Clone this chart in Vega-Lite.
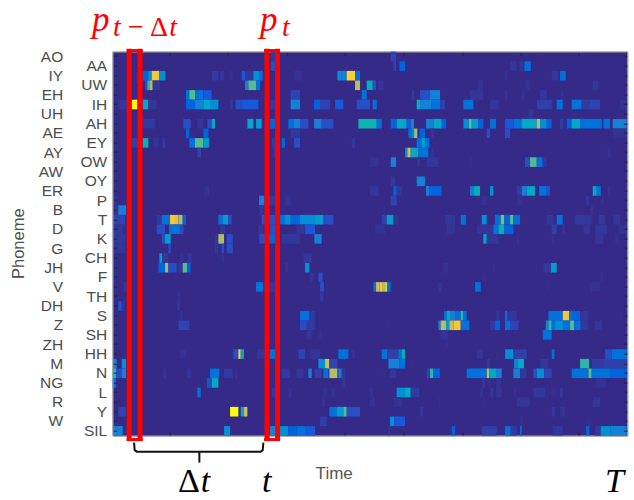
{"$schema":"https://vega.github.io/schema/vega-lite/v6.json","width":514.7,"height":384,"autosize":{"type":"none"},"padding":{"left":112.7,"top":51.7,"right":6.6,"bottom":64.3},"background":"white","view":{"fill":"#352a87","stroke":null},
"resolve":{"scale":{"y":"independent"},"axis":{"x":"independent","y":"independent"}},
"datasets":{"carrier":[{"p":"AO","t":0,"e":1}],
"cells":[
{"p":"AO","t":475,"e":487,"v":0.06},{"p":"AO","t":834,"e":850,"v":0.08},
{"p":"AA","t":475,"e":487,"v":0.1},{"p":"AA","t":842,"e":850,"v":0.08},{"p":"AA","t":860,"e":877,"v":0.15},{"p":"AA","t":1192,"e":1212,"v":0.04},{"p":"AA","t":1220,"e":1232,"v":0.04},{"p":"AA","t":1235,"e":1254,"v":0.2},
{"p":"IY","t":90,"e":107,"v":0.15},{"p":"IY","t":107,"e":117,"v":0.3},{"p":"IY","t":117,"e":140,"v":0.85},{"p":"IY","t":140,"e":158,"v":0.3},{"p":"IY","t":297,"e":317,"v":0.06},{"p":"IY","t":322,"e":334,"v":0.05},{"p":"IY","t":352,"e":360,"v":0.03},{"p":"IY","t":387,"e":397,"v":0.12},{"p":"IY","t":397,"e":422,"v":0.05},{"p":"IY","t":422,"e":440,"v":0.3},{"p":"IY","t":440,"e":450,"v":0.2},{"p":"IY","t":544,"e":567,"v":0.03},{"p":"IY","t":674,"e":687,"v":0.3},{"p":"IY","t":687,"e":702,"v":0.25},{"p":"IY","t":702,"e":727,"v":0.9},{"p":"IY","t":727,"e":742,"v":0.2},{"p":"IY","t":1177,"e":1184,"v":0.03},{"p":"IY","t":1317,"e":1337,"v":0.05},{"p":"IY","t":1342,"e":1359,"v":0.2},
{"p":"UW","t":97,"e":104,"v":0.1},{"p":"UW","t":104,"e":112,"v":0.5},{"p":"UW","t":112,"e":120,"v":0.7},{"p":"UW","t":120,"e":142,"v":0.05},{"p":"UW","t":397,"e":407,"v":0.25},{"p":"UW","t":407,"e":430,"v":0.55},{"p":"UW","t":430,"e":442,"v":0.2},{"p":"UW","t":727,"e":742,"v":0.7},{"p":"UW","t":762,"e":780,"v":0.45},{"p":"UW","t":780,"e":790,"v":0.1},{"p":"UW","t":797,"e":812,"v":0.04},{"p":"UW","t":1097,"e":1112,"v":0.03},{"p":"UW","t":1237,"e":1252,"v":0.03},{"p":"UW","t":1440,"e":1457,"v":0.05},
{"p":"EH","t":220,"e":230,"v":0.2},{"p":"EH","t":230,"e":247,"v":0.55},{"p":"EH","t":247,"e":272,"v":0.2},{"p":"EH","t":272,"e":297,"v":0.12},{"p":"EH","t":534,"e":562,"v":0.08},{"p":"EH","t":747,"e":762,"v":0.2},{"p":"EH","t":897,"e":904,"v":0.06},{"p":"EH","t":922,"e":952,"v":0.1},{"p":"EH","t":952,"e":982,"v":0.25},{"p":"EH","t":1072,"e":1112,"v":0.04},{"p":"EH","t":1177,"e":1184,"v":0.03},{"p":"EH","t":1227,"e":1237,"v":0.03},{"p":"EH","t":1282,"e":1302,"v":0.05},{"p":"EH","t":1347,"e":1352,"v":0.03},
{"p":"IH","t":17,"e":57,"v":0.05},{"p":"IH","t":57,"e":74,"v":1},{"p":"IH","t":90,"e":107,"v":0.4},{"p":"IH","t":107,"e":132,"v":0.04},{"p":"IH","t":220,"e":247,"v":0.15},{"p":"IH","t":247,"e":272,"v":0.25},{"p":"IH","t":272,"e":292,"v":0.4},{"p":"IH","t":292,"e":317,"v":0.3},{"p":"IH","t":352,"e":360,"v":0.05},{"p":"IH","t":369,"e":387,"v":0.1},{"p":"IH","t":387,"e":437,"v":0.12},{"p":"IH","t":472,"e":487,"v":0.05},{"p":"IH","t":534,"e":562,"v":0.25},{"p":"IH","t":604,"e":622,"v":0.15},{"p":"IH","t":622,"e":652,"v":0.08},{"p":"IH","t":667,"e":692,"v":0.12},{"p":"IH","t":732,"e":772,"v":0.1},{"p":"IH","t":780,"e":792,"v":0.2},{"p":"IH","t":912,"e":922,"v":0.45},{"p":"IH","t":922,"e":957,"v":0.25},{"p":"IH","t":957,"e":982,"v":0.2},{"p":"IH","t":982,"e":997,"v":0.07},{"p":"IH","t":1052,"e":1082,"v":0.2},{"p":"IH","t":1132,"e":1157,"v":0.05},{"p":"IH","t":1272,"e":1317,"v":0.07},{"p":"IH","t":1332,"e":1350,"v":0.2},{"p":"IH","t":1377,"e":1407,"v":0.2},{"p":"IH","t":1407,"e":1432,"v":0.06},{"p":"IH","t":1432,"e":1462,"v":0.08},{"p":"IH","t":1522,"e":1542,"v":0.03},
{"p":"UH","t":1247,"e":1262,"v":0.04},
{"p":"AH","t":90,"e":127,"v":0.06},{"p":"AH","t":212,"e":234,"v":0.1},{"p":"AH","t":254,"e":272,"v":0.05},{"p":"AH","t":284,"e":297,"v":0.1},{"p":"AH","t":297,"e":307,"v":0.4},{"p":"AH","t":404,"e":422,"v":0.4},{"p":"AH","t":430,"e":447,"v":0.35},{"p":"AH","t":472,"e":487,"v":0.15},{"p":"AH","t":527,"e":542,"v":0.2},{"p":"AH","t":542,"e":562,"v":0.25},{"p":"AH","t":562,"e":587,"v":0.1},{"p":"AH","t":604,"e":627,"v":0.25},{"p":"AH","t":627,"e":662,"v":0.1},{"p":"AH","t":737,"e":792,"v":0.47},{"p":"AH","t":792,"e":807,"v":0.2},{"p":"AH","t":834,"e":852,"v":0.15},{"p":"AH","t":852,"e":882,"v":0.4},{"p":"AH","t":882,"e":894,"v":0.12},{"p":"AH","t":894,"e":904,"v":0.25},{"p":"AH","t":940,"e":962,"v":0.25},{"p":"AH","t":962,"e":987,"v":0.4},{"p":"AH","t":987,"e":1000,"v":0.15},{"p":"AH","t":1052,"e":1069,"v":0.3},{"p":"AH","t":1069,"e":1077,"v":0.6},{"p":"AH","t":1077,"e":1097,"v":0.35},{"p":"AH","t":1097,"e":1112,"v":0.15},{"p":"AH","t":1132,"e":1150,"v":0.2},{"p":"AH","t":1177,"e":1202,"v":0.12},{"p":"AH","t":1202,"e":1227,"v":0.2},{"p":"AH","t":1227,"e":1272,"v":0.4},{"p":"AH","t":1272,"e":1282,"v":0.7},{"p":"AH","t":1282,"e":1302,"v":0.3},{"p":"AH","t":1302,"e":1317,"v":0.15},{"p":"AH","t":1342,"e":1352,"v":0.07},{"p":"AH","t":1362,"e":1377,"v":0.15},{"p":"AH","t":1377,"e":1402,"v":0.4},{"p":"AH","t":1402,"e":1467,"v":0.2},{"p":"AH","t":1472,"e":1492,"v":0.2},{"p":"AH","t":1500,"e":1542,"v":0.25},
{"p":"AE","t":220,"e":230,"v":0.15},{"p":"AE","t":272,"e":287,"v":0.15},{"p":"AE","t":534,"e":562,"v":0.05},{"p":"AE","t":887,"e":897,"v":0.2},{"p":"AE","t":897,"e":904,"v":0.3},{"p":"AE","t":904,"e":914,"v":0.65},{"p":"AE","t":920,"e":937,"v":0.15},{"p":"AE","t":954,"e":964,"v":0.04},{"p":"AE","t":1122,"e":1132,"v":0.1},{"p":"AE","t":1177,"e":1192,"v":0.1},{"p":"AE","t":1500,"e":1542,"v":0.03},
{"p":"EY","t":57,"e":90,"v":0.07},{"p":"EY","t":90,"e":107,"v":0.45},{"p":"EY","t":122,"e":137,"v":0.04},{"p":"EY","t":149,"e":158,"v":0.06},{"p":"EY","t":230,"e":247,"v":0.2},{"p":"EY","t":247,"e":272,"v":0.55},{"p":"EY","t":272,"e":289,"v":0.35},{"p":"EY","t":477,"e":487,"v":0.05},{"p":"EY","t":507,"e":517,"v":0.15},{"p":"EY","t":544,"e":562,"v":0.1},{"p":"EY","t":717,"e":727,"v":0.05},{"p":"EY","t":912,"e":927,"v":0.2},{"p":"EY","t":927,"e":937,"v":0.35},{"p":"EY","t":937,"e":950,"v":0.2},
{"p":"AY","t":254,"e":265,"v":0.08},{"p":"AY","t":482,"e":492,"v":0.05},{"p":"AY","t":877,"e":884,"v":0.3},{"p":"AY","t":884,"e":894,"v":0.75},{"p":"AY","t":894,"e":917,"v":0.4},{"p":"AY","t":917,"e":947,"v":0.2},{"p":"AY","t":954,"e":964,"v":0.03},{"p":"AY","t":1484,"e":1494,"v":0.03},
{"p":"OW","t":772,"e":797,"v":0.03},{"p":"OW","t":834,"e":850,"v":0.25},{"p":"OW","t":914,"e":922,"v":0.05},{"p":"OW","t":942,"e":977,"v":0.05},{"p":"OW","t":1072,"e":1077,"v":0.03},{"p":"OW","t":1237,"e":1252,"v":0.1},{"p":"OW","t":1252,"e":1272,"v":0.55},{"p":"OW","t":1272,"e":1290,"v":0.2},{"p":"OW","t":1290,"e":1302,"v":0.05},
{"p":"OY","t":834,"e":847,"v":0.05},{"p":"OY","t":912,"e":937,"v":0.25},
{"p":"ER","t":274,"e":289,"v":0.03},{"p":"ER","t":772,"e":797,"v":0.05},{"p":"ER","t":842,"e":852,"v":0.15},{"p":"ER","t":852,"e":867,"v":0.05},{"p":"ER","t":940,"e":950,"v":0.25},{"p":"ER","t":950,"e":987,"v":0.15},{"p":"ER","t":1072,"e":1084,"v":0.25},{"p":"ER","t":1084,"e":1102,"v":0.45},{"p":"ER","t":1132,"e":1142,"v":0.3},{"p":"ER","t":1212,"e":1227,"v":0.06},{"p":"ER","t":1227,"e":1242,"v":0.25},{"p":"ER","t":1242,"e":1267,"v":0.4},{"p":"ER","t":1279,"e":1302,"v":0.2},{"p":"ER","t":1302,"e":1312,"v":0.1},{"p":"ER","t":1440,"e":1452,"v":0.4},{"p":"ER","t":1452,"e":1464,"v":0.2},{"p":"ER","t":1484,"e":1492,"v":0.03},
{"p":"P","t":2,"e":12,"v":0.03},{"p":"P","t":439,"e":455,"v":0.25},{"p":"P","t":455,"e":472,"v":0.08},{"p":"P","t":472,"e":487,"v":0.05},{"p":"P","t":517,"e":534,"v":0.03},{"p":"P","t":834,"e":852,"v":0.08},{"p":"P","t":1107,"e":1122,"v":0.03},{"p":"P","t":1212,"e":1227,"v":0.03},{"p":"P","t":1420,"e":1430,"v":0.05},{"p":"P","t":1467,"e":1472,"v":0.03},
{"p":"B","t":7,"e":17,"v":0.05},{"p":"B","t":17,"e":40,"v":0.25},{"p":"B","t":439,"e":452,"v":0.04},{"p":"B","t":812,"e":817,"v":0.02},{"p":"B","t":1432,"e":1442,"v":0.03},
{"p":"T","t":2,"e":37,"v":0.08},{"p":"T","t":132,"e":147,"v":0.05},{"p":"T","t":147,"e":172,"v":0.2},{"p":"T","t":172,"e":187,"v":0.85},{"p":"T","t":187,"e":197,"v":0.8},{"p":"T","t":197,"e":210,"v":0.7},{"p":"T","t":210,"e":220,"v":0.15},{"p":"T","t":317,"e":330,"v":0.2},{"p":"T","t":330,"e":347,"v":0.35},{"p":"T","t":347,"e":357,"v":0.1},{"p":"T","t":447,"e":502,"v":0.1},{"p":"T","t":502,"e":517,"v":0.2},{"p":"T","t":517,"e":534,"v":0.3},{"p":"T","t":534,"e":562,"v":0.15},{"p":"T","t":562,"e":607,"v":0.3},{"p":"T","t":607,"e":632,"v":0.35},{"p":"T","t":632,"e":662,"v":0.1},{"p":"T","t":807,"e":822,"v":0.07},{"p":"T","t":822,"e":842,"v":0.35},{"p":"T","t":842,"e":857,"v":0.04},{"p":"T","t":997,"e":1027,"v":0.05},{"p":"T","t":1044,"e":1060,"v":0.2},{"p":"T","t":1107,"e":1122,"v":0.3},{"p":"T","t":1147,"e":1164,"v":0.2},{"p":"T","t":1164,"e":1175,"v":0.6},{"p":"T","t":1175,"e":1192,"v":0.15},{"p":"T","t":1192,"e":1202,"v":0.55},{"p":"T","t":1202,"e":1222,"v":0.2},{"p":"T","t":1302,"e":1322,"v":0.05},{"p":"T","t":1332,"e":1350,"v":0.2},{"p":"T","t":1387,"e":1437,"v":0.05},{"p":"T","t":1457,"e":1477,"v":0.05},{"p":"T","t":1502,"e":1522,"v":0.05},
{"p":"D","t":2,"e":32,"v":0.05},{"p":"D","t":132,"e":157,"v":0.1},{"p":"D","t":169,"e":202,"v":0.2},{"p":"D","t":202,"e":212,"v":0.1},{"p":"D","t":322,"e":337,"v":0.05},{"p":"D","t":437,"e":452,"v":0.05},{"p":"D","t":472,"e":487,"v":0.1},{"p":"D","t":552,"e":577,"v":0.04},{"p":"D","t":577,"e":607,"v":0.12},{"p":"D","t":787,"e":817,"v":0.03},{"p":"D","t":1002,"e":1027,"v":0.03},{"p":"D","t":1092,"e":1142,"v":0.04},{"p":"D","t":1142,"e":1157,"v":0.2},{"p":"D","t":1157,"e":1175,"v":0.45},{"p":"D","t":1175,"e":1202,"v":0.15},{"p":"D","t":1317,"e":1332,"v":0.07},{"p":"D","t":1347,"e":1357,"v":0.03},{"p":"D","t":1412,"e":1432,"v":0.04},{"p":"D","t":1447,"e":1482,"v":0.05},{"p":"D","t":1517,"e":1542,"v":0.03},
{"p":"K","t":2,"e":37,"v":0.05},{"p":"K","t":147,"e":157,"v":0.1},{"p":"K","t":157,"e":174,"v":0.35},{"p":"K","t":307,"e":317,"v":0.05},{"p":"K","t":317,"e":334,"v":0.7},{"p":"K","t":342,"e":360,"v":0.1},{"p":"K","t":440,"e":457,"v":0.1},{"p":"K","t":457,"e":487,"v":0.15},{"p":"K","t":507,"e":562,"v":0.05},{"p":"K","t":605,"e":627,"v":0.25},{"p":"K","t":1112,"e":1122,"v":0.4},{"p":"K","t":1122,"e":1157,"v":0.05},{"p":"K","t":1212,"e":1220,"v":0.03},{"p":"K","t":1317,"e":1324,"v":0.03},{"p":"K","t":1447,"e":1472,"v":0.04},{"p":"K","t":1507,"e":1517,"v":0.03},
{"p":"G","t":2,"e":37,"v":0.04},{"p":"G","t":167,"e":174,"v":0.1},{"p":"G","t":307,"e":317,"v":0.05},{"p":"G","t":327,"e":334,"v":0.1},{"p":"G","t":342,"e":360,"v":0.1},
{"p":"CH","t":140,"e":149,"v":0.35},{"p":"CH","t":149,"e":167,"v":0.05},{"p":"CH","t":202,"e":212,"v":0.03},{"p":"CH","t":224,"e":237,"v":0.05},{"p":"CH","t":327,"e":334,"v":0.03},{"p":"CH","t":572,"e":597,"v":0.05},
{"p":"JH","t":137,"e":157,"v":0.15},{"p":"JH","t":157,"e":167,"v":0.65},{"p":"JH","t":167,"e":192,"v":0.1},{"p":"JH","t":197,"e":210,"v":0.05},{"p":"JH","t":210,"e":224,"v":0.55},{"p":"JH","t":224,"e":234,"v":0.15},{"p":"JH","t":517,"e":527,"v":0.03},{"p":"JH","t":577,"e":590,"v":0.3},{"p":"JH","t":992,"e":1007,"v":0.03},{"p":"JH","t":1142,"e":1148,"v":0.02},{"p":"JH","t":1292,"e":1315,"v":0.06},{"p":"JH","t":1315,"e":1332,"v":0.35},
{"p":"F","t":592,"e":602,"v":0.04},{"p":"F","t":617,"e":630,"v":0.1},{"p":"F","t":1107,"e":1122,"v":0.02},{"p":"F","t":1462,"e":1472,"v":0.02},
{"p":"V","t":32,"e":42,"v":0.05},{"p":"V","t":430,"e":452,"v":0.2},{"p":"V","t":452,"e":472,"v":0.05},{"p":"V","t":472,"e":487,"v":0.04},{"p":"V","t":622,"e":634,"v":0.1},{"p":"V","t":782,"e":790,"v":0.2},{"p":"V","t":790,"e":800,"v":0.75},{"p":"V","t":800,"e":808,"v":0.85},{"p":"V","t":808,"e":817,"v":0.7},{"p":"V","t":817,"e":824,"v":0.85},{"p":"V","t":824,"e":834,"v":0.2},{"p":"V","t":977,"e":987,"v":0.04},{"p":"V","t":1087,"e":1104,"v":0.2},{"p":"V","t":1302,"e":1307,"v":0.02},{"p":"V","t":1432,"e":1462,"v":0.03},
{"p":"TH","t":194,"e":202,"v":0.03},{"p":"TH","t":622,"e":632,"v":0.05},
{"p":"DH","t":17,"e":27,"v":0.12},{"p":"DH","t":27,"e":37,"v":0.04},{"p":"DH","t":194,"e":202,"v":0.05},
{"p":"S","t":202,"e":210,"v":0.03},{"p":"S","t":562,"e":590,"v":0.2},{"p":"S","t":590,"e":607,"v":0.06},{"p":"S","t":994,"e":1002,"v":0.2},{"p":"S","t":1002,"e":1012,"v":0.4},{"p":"S","t":1012,"e":1027,"v":0.25},{"p":"S","t":1027,"e":1044,"v":0.2},{"p":"S","t":1044,"e":1052,"v":0.5},{"p":"S","t":1052,"e":1062,"v":0.2},{"p":"S","t":1150,"e":1160,"v":0.04},{"p":"S","t":1177,"e":1184,"v":0.2},{"p":"S","t":1184,"e":1212,"v":0.04},{"p":"S","t":1307,"e":1350,"v":0.2},{"p":"S","t":1350,"e":1369,"v":0.85},{"p":"S","t":1369,"e":1382,"v":0.2},{"p":"S","t":1382,"e":1402,"v":0.15},{"p":"S","t":1402,"e":1427,"v":0.05},{"p":"S","t":1522,"e":1527,"v":0.02},
{"p":"Z","t":197,"e":230,"v":0.08},{"p":"Z","t":562,"e":582,"v":0.1},{"p":"Z","t":582,"e":607,"v":0.06},{"p":"Z","t":827,"e":832,"v":0.02},{"p":"Z","t":977,"e":984,"v":0.25},{"p":"Z","t":984,"e":1000,"v":0.7},{"p":"Z","t":1000,"e":1010,"v":0.35},{"p":"Z","t":1010,"e":1022,"v":0.75},{"p":"Z","t":1022,"e":1044,"v":0.85},{"p":"Z","t":1044,"e":1070,"v":0.2},{"p":"Z","t":1132,"e":1147,"v":0.06},{"p":"Z","t":1147,"e":1162,"v":0.15},{"p":"Z","t":1177,"e":1192,"v":0.2},{"p":"Z","t":1192,"e":1217,"v":0.08},{"p":"Z","t":1299,"e":1307,"v":0.25},{"p":"Z","t":1307,"e":1317,"v":0.5},{"p":"Z","t":1317,"e":1327,"v":0.2},{"p":"Z","t":1327,"e":1352,"v":0.3},{"p":"Z","t":1352,"e":1372,"v":0.2},{"p":"Z","t":1372,"e":1384,"v":0.55},{"p":"Z","t":1384,"e":1404,"v":0.2},{"p":"Z","t":1404,"e":1427,"v":0.05},{"p":"Z","t":1447,"e":1467,"v":0.05},
{"p":"SH","t":582,"e":597,"v":0.04},{"p":"SH","t":617,"e":627,"v":0.02},{"p":"SH","t":984,"e":1007,"v":0.04},{"p":"SH","t":1290,"e":1317,"v":0.2},
{"p":"ZH","t":1000,"e":1007,"v":0.02},
{"p":"HH","t":202,"e":220,"v":0.03},{"p":"HH","t":362,"e":377,"v":0.1},{"p":"HH","t":377,"e":384,"v":0.9},{"p":"HH","t":384,"e":394,"v":0.4},{"p":"HH","t":432,"e":457,"v":0.04},{"p":"HH","t":457,"e":472,"v":0.05},{"p":"HH","t":472,"e":487,"v":0.2},{"p":"HH","t":557,"e":577,"v":0.08},{"p":"HH","t":592,"e":622,"v":0.04},{"p":"HH","t":677,"e":707,"v":0.2},{"p":"HH","t":717,"e":727,"v":0.03},{"p":"HH","t":807,"e":824,"v":0.2},{"p":"HH","t":824,"e":857,"v":0.07},{"p":"HH","t":857,"e":867,"v":0.2},{"p":"HH","t":867,"e":877,"v":0.45},{"p":"HH","t":1092,"e":1112,"v":0.04},{"p":"HH","t":1152,"e":1157,"v":0.02},{"p":"HH","t":1177,"e":1202,"v":0.3},{"p":"HH","t":1202,"e":1242,"v":0.07},{"p":"HH","t":1317,"e":1325,"v":0.2},{"p":"HH","t":1477,"e":1497,"v":0.1},{"p":"HH","t":1497,"e":1542,"v":0.2},
{"p":"M","t":2,"e":12,"v":0.25},{"p":"M","t":27,"e":40,"v":0.3},{"p":"M","t":617,"e":637,"v":0.3},{"p":"M","t":637,"e":650,"v":0.75},{"p":"M","t":650,"e":674,"v":0.08},{"p":"M","t":827,"e":860,"v":0.25},{"p":"M","t":860,"e":877,"v":0.2},{"p":"M","t":897,"e":902,"v":0.02},{"p":"M","t":1122,"e":1132,"v":0.05},{"p":"M","t":1204,"e":1214,"v":0.25},{"p":"M","t":1214,"e":1234,"v":0.4},{"p":"M","t":1282,"e":1307,"v":0.04},{"p":"M","t":1402,"e":1429,"v":0.5},{"p":"M","t":1437,"e":1472,"v":0.06},{"p":"M","t":1472,"e":1542,"v":0.07},
{"p":"N","t":0,"e":10,"v":0.5},{"p":"N","t":10,"e":27,"v":0.1},{"p":"N","t":27,"e":40,"v":0.25},{"p":"N","t":152,"e":160,"v":0.04},{"p":"N","t":224,"e":234,"v":0.05},{"p":"N","t":292,"e":320,"v":0.2},{"p":"N","t":334,"e":360,"v":0.06},{"p":"N","t":367,"e":374,"v":0.04},{"p":"N","t":507,"e":532,"v":0.06},{"p":"N","t":552,"e":572,"v":0.05},{"p":"N","t":587,"e":597,"v":0.25},{"p":"N","t":607,"e":627,"v":0.07},{"p":"N","t":632,"e":647,"v":0.2},{"p":"N","t":650,"e":674,"v":0.7},{"p":"N","t":677,"e":687,"v":0.25},{"p":"N","t":687,"e":697,"v":0.05},{"p":"N","t":812,"e":817,"v":0.02},{"p":"N","t":832,"e":850,"v":0.05},{"p":"N","t":942,"e":952,"v":0.08},{"p":"N","t":952,"e":962,"v":0.5},{"p":"N","t":962,"e":982,"v":0.15},{"p":"N","t":1062,"e":1122,"v":0.2},{"p":"N","t":1122,"e":1130,"v":0.7},{"p":"N","t":1130,"e":1150,"v":0.4},{"p":"N","t":1150,"e":1167,"v":0.25},{"p":"N","t":1202,"e":1222,"v":0.25},{"p":"N","t":1222,"e":1242,"v":0.05},{"p":"N","t":1262,"e":1272,"v":0.1},{"p":"N","t":1272,"e":1294,"v":0.3},{"p":"N","t":1294,"e":1317,"v":0.08},{"p":"N","t":1377,"e":1427,"v":0.2},{"p":"N","t":1427,"e":1437,"v":0.55},{"p":"N","t":1437,"e":1492,"v":0.2},{"p":"N","t":1492,"e":1542,"v":0.15},
{"p":"NG","t":0,"e":10,"v":0.2},{"p":"NG","t":282,"e":297,"v":0.1},{"p":"NG","t":297,"e":317,"v":0.4},{"p":"NG","t":687,"e":697,"v":0.04},{"p":"NG","t":1107,"e":1117,"v":0.04},{"p":"NG","t":1127,"e":1137,"v":0.02},{"p":"NG","t":1150,"e":1164,"v":0.04},{"p":"NG","t":1447,"e":1480,"v":0.03},
{"p":"L","t":254,"e":264,"v":0.2},{"p":"L","t":477,"e":487,"v":0.05},{"p":"L","t":527,"e":537,"v":0.03},{"p":"L","t":632,"e":642,"v":0.03},{"p":"L","t":657,"e":667,"v":0.03},{"p":"L","t":772,"e":780,"v":0.04},{"p":"L","t":852,"e":877,"v":0.3},{"p":"L","t":877,"e":894,"v":0.4},{"p":"L","t":894,"e":920,"v":0.06},{"p":"L","t":1102,"e":1112,"v":0.03},{"p":"L","t":1132,"e":1142,"v":0.05},{"p":"L","t":1150,"e":1167,"v":0.04},{"p":"L","t":1204,"e":1210,"v":0.02},{"p":"L","t":1262,"e":1297,"v":0.05},{"p":"L","t":1320,"e":1324,"v":0.03},{"p":"L","t":1342,"e":1350,"v":0.06},
{"p":"R","t":627,"e":637,"v":0.03},{"p":"R","t":772,"e":787,"v":0.03},{"p":"R","t":842,"e":867,"v":0.03},{"p":"R","t":977,"e":982,"v":0.02},{"p":"R","t":1112,"e":1117,"v":0.02},{"p":"R","t":1212,"e":1252,"v":0.04},{"p":"R","t":1440,"e":1462,"v":0.05},
{"p":"Y","t":17,"e":40,"v":0.08},{"p":"Y","t":352,"e":377,"v":1},{"p":"Y","t":384,"e":394,"v":0.4},{"p":"Y","t":394,"e":404,"v":0.75},{"p":"Y","t":650,"e":672,"v":0.2},{"p":"Y","t":672,"e":692,"v":0.35},{"p":"Y","t":692,"e":702,"v":0.55},{"p":"Y","t":702,"e":742,"v":0.1},{"p":"Y","t":922,"e":932,"v":0.05},{"p":"Y","t":1317,"e":1327,"v":0.05},{"p":"Y","t":1342,"e":1357,"v":0.04},
{"p":"W","t":622,"e":642,"v":0.07},{"p":"W","t":832,"e":844,"v":0.3},{"p":"W","t":844,"e":877,"v":0.12},{"p":"W","t":1222,"e":1230,"v":0.03},{"p":"W","t":1422,"e":1437,"v":0.02},
{"p":"SIL","t":2,"e":30,"v":0.25},{"p":"SIL","t":334,"e":352,"v":0.3},{"p":"SIL","t":472,"e":492,"v":0.25},{"p":"SIL","t":492,"e":527,"v":0.3},{"p":"SIL","t":527,"e":552,"v":0.15},{"p":"SIL","t":552,"e":577,"v":0.2},{"p":"SIL","t":577,"e":607,"v":0.12},{"p":"SIL","t":827,"e":832,"v":0.05},{"p":"SIL","t":1017,"e":1027,"v":0.15},{"p":"SIL","t":1107,"e":1152,"v":0.07},{"p":"SIL","t":1177,"e":1194,"v":0.2},{"p":"SIL","t":1194,"e":1212,"v":0.06},{"p":"SIL","t":1222,"e":1227,"v":0.2},{"p":"SIL","t":1320,"e":1350,"v":0.05},{"p":"SIL","t":1420,"e":1430,"v":0.15},{"p":"SIL","t":1447,"e":1464,"v":0.06},{"p":"SIL","t":1464,"e":1494,"v":0.3},{"p":"SIL","t":1494,"e":1542,"v":0.25}
]},
"layer":[
{"data":{"name":"cells"},"mark":{"type":"rect"},"encoding":{
"x":{"field":"t","type":"quantitative","scale":{"domain":[0,1544],"nice":false,"zero":false},"axis":{"orient":"bottom","values":[171,346,523,697,872,1049,1224,1399],"labels":false,"grid":false,"tickSize":-4,"tickColor":"#262626","domainColor":"#8a8a8a","title":"Time","titleFont":"Liberation Sans","titleFontSize":17,"titleFontWeight":"normal","titleColor":"#555555","titleX":221,"titleY":43,"titleAlign":"center","titleBaseline":"alphabetic"}},
"x2":{"field":"e"},
"y":{"field":"p","type":"nominal","scale":{"domain":["AO","AA","IY","UW","EH","IH","UH","AH","AE","EY","AY","OW","AW","OY","ER","P","B","T","D","K","G","CH","JH","F","V","TH","DH","S","Z","SH","ZH","HH","M","N","NG","L","R","Y","W","SIL"],"padding":0},"axis":{"orient":"left","grid":false,"tickSize":-4,"tickColor":"#262626","domainColor":"#8a8a8a","labelFont":"Liberation Sans","labelFontSize":15.5,"labelColor":"#4d4d4d","labelPadding":54,"labelExpr":"indexof(['AO','IY','EH','UH','AE','AY','AW','ER','B','D','G','JH','V','DH','Z','ZH','M','NG','R','W'],datum.value)>=0?datum.label:''","title":"Phoneme","titleFont":"Liberation Sans","titleFontSize":16.5,"titleFontWeight":"normal","titleColor":"#4d4d4d","titleX":-94.7,"titleY":191.5,"titleAlign":"center","titleBaseline":"middle","labelOverlap":false}},
"color":{"field":"v","type":"quantitative","legend":null,"scale":{"domain":[0,0.06,0.125,0.25,0.375,0.5,0.625,0.75,0.875,1],"range":["#352a87","#323a9f","#0f5cdd","#1481d6","#06a4ca","#2eb7a4","#87bf77","#d1bb59","#fec832","#f9fb0e"]}}}},
{"data":{"name":"carrier"},"mark":{"type":"rect","opacity":0},"encoding":{
"x":{"field":"t","type":"quantitative","scale":{"domain":[0,1544],"nice":false,"zero":false},"axis":{"orient":"top","values":[171,346,523,697,872,1049,1224,1399],"labels":false,"grid":false,"tickSize":-4,"tickColor":"#262626","domainColor":"#8a8a8a","title":null}},
"x2":{"field":"e"},
"y":{"field":"p","type":"nominal","scale":{"domain":["AO","AA","IY","UW","EH","IH","UH","AH","AE","EY","AY","OW","AW","OY","ER","P","B","T","D","K","G","CH","JH","F","V","TH","DH","S","Z","SH","ZH","HH","M","N","NG","L","R","Y","W","SIL"],"padding":0},"axis":{"orient":"left","grid":false,"ticks":false,"domain":false,"labelFont":"Liberation Sans","labelFontSize":15.5,"labelColor":"#4d4d4d","labelPadding":6,"labelExpr":"indexof(['AA','UW','IH','AH','EY','OW','OY','P','T','K','CH','F','TH','S','SH','HH','N','L','Y','SIL'],datum.value)>=0?datum.label:''","title":null,"labelOverlap":false}}}},
{"data":{"name":"carrier"},"mark":{"type":"rect","opacity":0},"encoding":{
"x":{"field":"t","type":"quantitative","scale":{"domain":[0,1544],"nice":false,"zero":false},"axis":null},
"x2":{"field":"e"},
"y":{"field":"p","type":"nominal","scale":{"domain":["AO","AA","IY","UW","EH","IH","UH","AH","AE","EY","AY","OW","AW","OY","ER","P","B","T","D","K","G","CH","JH","F","V","TH","DH","S","Z","SH","ZH","HH","M","N","NG","L","R","Y","W","SIL"],"padding":0},"axis":{"orient":"right","grid":false,"labels":false,"tickSize":-4,"tickColor":"#262626","domainColor":"#8a8a8a","title":null}}}},
{"data":{"values":[{"a":49.5,"b":-0.3,"c":40.55},{"a":82,"b":-0.3,"c":40.55},{"a":463,"b":-0.3,"c":40.55},{"a":494.5,"b":-0.3,"c":40.55}]},"mark":{"type":"rule","color":"#ff0000","strokeWidth":5},"encoding":{
"x":{"field":"a","type":"quantitative","scale":{"domain":[0,1544],"nice":false,"zero":false},"axis":null},
"y":{"field":"b","type":"quantitative","scale":{"domain":[0,40],"nice":false,"zero":false,"reverse":true},"axis":null},
"y2":{"field":"c"}}},
{"data":{"values":[{"a":42,"b":90,"c":-0.12},{"a":42,"b":90,"c":40.4},{"a":454,"b":502,"c":-0.12},{"a":454,"b":502,"c":40.4}]},"mark":{"type":"rule","color":"#ff0000","strokeWidth":3},"encoding":{
"x":{"field":"a","type":"quantitative","scale":{"domain":[0,1544],"nice":false,"zero":false},"axis":null},
"x2":{"field":"b"},
"y":{"field":"c","type":"quantitative","scale":{"domain":[0,40],"nice":false,"zero":false,"reverse":true},"axis":null}}},
{"data":{"values":[{"s":"a","o":1,"a":64,"b":40.72},{"s":"a","o":2,"a":66,"b":41.5},{"s":"a","o":3,"a":72,"b":41.66},{"s":"a","o":4,"a":444,"b":41.66},{"s":"a","o":5,"a":450,"b":41.5},{"s":"a","o":6,"a":452,"b":40.72},{"s":"b","o":1,"a":260,"b":41.66},{"s":"b","o":2,"a":260,"b":42.8}]},"mark":{"type":"line","color":"#111111","strokeWidth":2},"encoding":{
"x":{"field":"a","type":"quantitative","scale":{"domain":[0,1544],"nice":false,"zero":false},"axis":null},
"y":{"field":"b","type":"quantitative","scale":{"domain":[0,40],"nice":false,"zero":false,"reverse":true},"axis":null},
"detail":{"field":"s"},"order":{"field":"o"}}},
{"data":{"values":[{"s":"p","a":-62,"b":-2.15},{"s":"p","a":442,"b":-2.15}]},"mark":{"type":"text","color":"#ff0000","font":"Liberation Serif","fontStyle":"italic","fontSize":35,"align":"left","baseline":"alphabetic"},"encoding":{
"x":{"field":"a","type":"quantitative","scale":{"domain":[0,1544],"nice":false,"zero":false},"axis":null},
"y":{"field":"b","type":"quantitative","scale":{"domain":[0,40],"nice":false,"zero":false,"reverse":true},"axis":null},
"text":{"field":"s"}}},
{"data":{"values":[{"s":"t","a":1,"b":-1.64},{"s":"t","a":170,"b":-1.64},{"s":"t","a":508,"b":-1.64}]},"mark":{"type":"text","color":"#ff0000","font":"Liberation Serif","fontStyle":"italic","fontSize":28,"align":"left","baseline":"alphabetic"},"encoding":{
"x":{"field":"a","type":"quantitative","scale":{"domain":[0,1544],"nice":false,"zero":false},"axis":null},
"y":{"field":"b","type":"quantitative","scale":{"domain":[0,40],"nice":false,"zero":false,"reverse":true},"axis":null},
"text":{"field":"s"}}},
{"data":{"values":[{"s":"−","a":46,"b":-1.64},{"s":"Δ","a":112,"b":-1.64}]},"mark":{"type":"text","color":"#ff0000","font":"Liberation Serif","fontSize":28,"align":"left","baseline":"alphabetic"},"encoding":{
"x":{"field":"a","type":"quantitative","scale":{"domain":[0,1544],"nice":false,"zero":false},"axis":null},
"y":{"field":"b","type":"quantitative","scale":{"domain":[0,40],"nice":false,"zero":false,"reverse":true},"axis":null},
"text":{"field":"s"}}},
{"data":{"values":[{"s":"t","a":264,"b":45.9},{"s":"t","a":448,"b":45.9},{"s":"T","a":1477,"b":45.9}]},"mark":{"type":"text","color":"#000000","font":"Liberation Serif","fontStyle":"italic","fontSize":34,"align":"left","baseline":"alphabetic"},"encoding":{
"x":{"field":"a","type":"quantitative","scale":{"domain":[0,1544],"nice":false,"zero":false},"axis":null},
"y":{"field":"b","type":"quantitative","scale":{"domain":[0,40],"nice":false,"zero":false,"reverse":true},"axis":null},
"text":{"field":"s"}}},
{"data":{"values":[{"s":"Δ","a":196,"b":45.9}]},"mark":{"type":"text","color":"#000000","font":"Liberation Serif","fontSize":34,"align":"left","baseline":"alphabetic"},"encoding":{
"x":{"field":"a","type":"quantitative","scale":{"domain":[0,1544],"nice":false,"zero":false},"axis":null},
"y":{"field":"b","type":"quantitative","scale":{"domain":[0,40],"nice":false,"zero":false,"reverse":true},"axis":null},
"text":{"field":"s"}}}
]}
